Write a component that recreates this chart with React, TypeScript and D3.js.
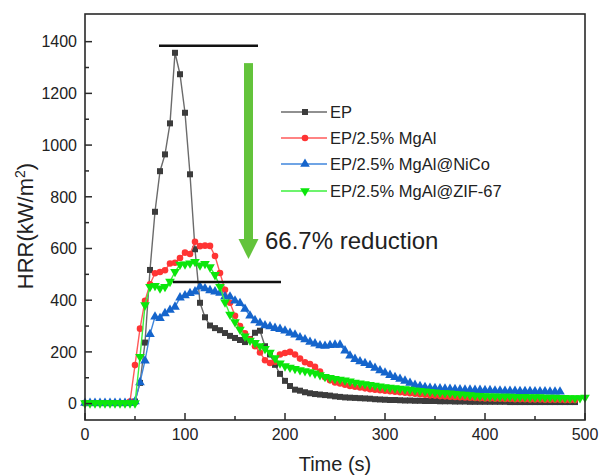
import React from "react";
import * as d3 from "d3";

// ---------- data ----------
const seriesNames = ["EP", "EP/2.5% MgAl", "EP/2.5% MgAl@NiCo", "EP/2.5% MgAl@ZIF-67"];

// HRR (kW/m2) sampled every 5 s starting at t = 0
const epHRR = [
  2, 2, 2, 2, 2, 2, 2, 2, 2, 3, 8, 80, 236, 517, 742, 899, 964, 1084, 1357, 1274,
  1125, 887, 597, 390, 334, 302, 292, 284, 273, 262, 254, 246, 238, 250, 274, 282, 222, 190, 150, 115,
  88, 68, 54, 50, 44, 40, 37, 35, 33, 31, 28, 26, 24, 23, 22, 21, 20, 19, 17, 16,
  15, 14, 14, 13, 12, 12, 11, 11, 10, 10, 10, 9, 9, 9, 8, 8, 8, 7, 7, 7,
  7, 7, 7, 7, 7, 6, 6, 6, 6, 6, 6, 6, 6, 6, 6, 6, 6, 6, 6,
];
const mgalHRR = [
  2, 2, 2, 2, 2, 2, 2, 2, 2, 8, 149, 290, 398, 462, 504, 509, 516, 542, 545, 563,
  584, 579, 626, 609, 611, 610, 571, 505, 440, 390, 340, 300, 272, 248, 222, 198, 168, 157, 162, 190,
  196, 200, 190, 174, 160, 153, 142, 124, 102, 90, 82, 78, 73, 68, 65, 62, 59, 56, 54, 52,
  50, 48, 46, 44, 42, 40, 38, 36, 34, 32, 31, 29, 28, 27, 26, 25, 24, 23, 22, 21,
  20, 20, 19, 19, 18, 18, 17, 17, 17, 16, 16, 16, 15, 15, 15, 15, 14, 14, 14,
];
const nicoHRR = [
  2, 2, 2, 2, 2, 2, 2, 2, 2, 2, 8, 82, 166, 268, 336, 330, 349, 362, 374, 410,
  418, 427, 433, 452, 445, 438, 433, 428, 414, 413, 398, 388, 366, 340, 322, 312, 302, 298, 292, 288,
  282, 273, 266, 256, 248, 238, 232, 225, 223, 226, 227, 227, 205, 185, 172, 163, 156, 148, 138, 128,
  119, 110, 102, 95, 88, 80, 72, 67, 63, 60, 59, 58, 57, 56, 55, 54, 53, 53, 52, 52,
  51, 51, 50, 50, 49, 49, 49, 48, 48, 48, 47, 47, 47, 46, 46, 46,
];
const zifHRR = [
  2, 2, 2, 2, 2, 2, 2, 2, 2, 2, 2, 181, 381, 452, 456, 446, 452, 472, 510, 538,
  539, 543, 549, 535, 541, 528, 498, 452, 392, 345, 316, 287, 260, 244, 235, 223, 212, 198, 176, 156,
  145, 140, 135, 130, 126, 122, 117, 111, 104, 100, 96, 93, 90, 86, 82, 79, 76, 73, 70, 67,
  64, 62, 60, 58, 56, 54, 52, 50, 48, 46, 44, 42, 41, 40, 38, 36, 35, 33, 31, 30,
  29, 28, 28, 27, 27, 27, 26, 26, 26, 25, 25, 25, 24, 24, 24, 23, 23, 22, 22, 22, 24,
];
const sampleInterval = 5;

const xTicks = [0, 100, 200, 300, 400, 500];
const xMinorTicks = [50, 150, 250, 350, 450];
const yTicks = [0, 200, 400, 600, 800, 1000, 1200, 1400];
const yMinorTicks = [100, 300, 500, 700, 900, 1100, 1300];

// annotation (data units)
const peakLineEP = { t0: 74, t1: 173, v: 1384 };
const peakLineZIF = { t0: 88, t1: 196, v: 470 };
const arrowSpec = { t: 163.5, vTop: 1317, vTip: 559 };
const reductionLabel = "66.7% reduction";

// ---------- layout / style ----------
const W = 599;
const H = 475;
const FONT = "'Liberation Sans', Arial, Helvetica, sans-serif";
const styles = [
  { line: "#6b6b6b", fill: "#3c3c3c", shape: "square" },
  { line: "#ff5a5a", fill: "#ff3434", shape: "circle" },
  { line: "#3f86dc", fill: "#1565cc", shape: "triangle" },
  { line: "#3cf03c", fill: "#0be60b", shape: "triangleDown" },
];

function markerPath(shape: string) {
  if (shape === "square") return d3.symbol().type(d3.symbolSquare).size(36)()!;
  if (shape === "circle") return d3.symbol().type(d3.symbolCircle).size(34)()!;
  return d3.symbol().type(d3.symbolTriangle).size(40)()!;
}

export default function App() {
  const x = d3.scaleLinear().domain([0, 500]).range([85, 585]);
  const y = d3.scaleLinear().domain([-63.4, 1507]).range([420, 14]);
  const [x0, x1] = x.range();
  const [yb, yt] = y.range();

  const allSeries = [epHRR, mgalHRR, nicoHRR, zifHRR].map((vals) =>
    vals.map((v, i) => [i * sampleInterval, v] as [number, number])
  );
  const line = d3
    .line<[number, number]>()
    .x((d) => x(d[0]))
    .y((d) => y(d[1]));

  const legendY = [112, 138, 164, 191];
  const ax = x(arrowSpec.t);
  const aTop = y(arrowSpec.vTop);
  const aTip = y(arrowSpec.vTip);

  return (
    <svg width={W} height={H} style={{ display: "block", position: "absolute", left: 0, top: 0, background: "#fff" }} fontFamily={FONT}>
      <rect x={0} y={0} width={W} height={H} fill="#fff" />
      {/* series */}
      {allSeries.map((pts, si) => {
        const st = styles[si];
        const p = markerPath(st.shape);
        return (
          <g key={si}>
            <path d={line(pts)!} fill="none" stroke={st.line} strokeWidth={1.4} />
            {pts.map((d, i) => (
              <path
                key={i}
                d={p}
                transform={`translate(${x(d[0])},${y(d[1])})${st.shape === "triangleDown" ? " rotate(180)" : ""}`}
                fill={st.fill}
              />
            ))}
          </g>
        );
      })}

      {/* frame */}
      <rect x={x0} y={yt} width={x1 - x0} height={yb - yt} fill="none" stroke="#2a2a2a" strokeWidth={1.6} />
      {/* x ticks */}
      {xTicks.map((t) => (
        <g key={"xt" + t}>
          <line x1={x(t)} x2={x(t)} y1={yb} y2={yb - 7} stroke="#2a2a2a" strokeWidth={1.5} />
          <text x={x(t)} y={440} textAnchor="middle" fontSize={16} fill="#222">
            {t}
          </text>
        </g>
      ))}
      {xMinorTicks.map((t) => (
        <line key={"xm" + t} x1={x(t)} x2={x(t)} y1={yb} y2={yb - 4} stroke="#2a2a2a" strokeWidth={1.5} />
      ))}
      {/* y ticks */}
      {yTicks.map((v) => (
        <g key={"yt" + v}>
          <line x1={x0} x2={x0 + 7} y1={y(v)} y2={y(v)} stroke="#2a2a2a" strokeWidth={1.5} />
          <text x={77} y={y(v)} dy="0.36em" textAnchor="end" fontSize={16} fill="#222">
            {v}
          </text>
        </g>
      ))}
      {yMinorTicks.map((v) => (
        <line key={"ym" + v} x1={x0} x2={x0 + 4} y1={y(v)} y2={y(v)} stroke="#2a2a2a" strokeWidth={1.5} />
      ))}

      {/* axis titles */}
      <text x={335} y={471} textAnchor="middle" fontSize={20} fill="#222">
        Time (s)
      </text>
      <text transform={`translate(33,226) rotate(-90)`} textAnchor="middle" fontSize={22} fill="#222">
        HRR(kW/m
        <tspan dy={-8} fontSize={14}>
          2
        </tspan>
        <tspan dy={8}>)</tspan>
      </text>

      {/* annotation lines */}
      <line x1={x(peakLineEP.t0)} x2={x(peakLineEP.t1)} y1={y(peakLineEP.v)} y2={y(peakLineEP.v)} stroke="#111" strokeWidth={2.5} />
      <line x1={x(peakLineZIF.t0)} x2={x(peakLineZIF.t1)} y1={y(peakLineZIF.v)} y2={y(peakLineZIF.v)} stroke="#111" strokeWidth={2.5} />
      {/* arrow */}
      <rect x={ax - 4.5} y={aTop} width={9} height={aTip - 20 - aTop} fill="#63c33b" />
      <path d={`M${ax - 10},${aTip - 20} L${ax + 10},${aTip - 20} L${ax},${aTip} Z`} fill="#63c33b" />
      <text x={265} y={249} fontSize={24} fill="#222">
        {reductionLabel}
      </text>

      {/* legend */}
      {seriesNames.map((name, i) => {
        const st = styles[i];
        const ly = legendY[i];
        return (
          <g key={name}>
            <line x1={281} x2={327} y1={ly} y2={ly} stroke={st.line} strokeWidth={1.5} />
            <path
              d={markerPath(st.shape)}
              transform={`translate(305,${ly})${st.shape === "triangleDown" ? " rotate(180)" : ""}`}
              fill={st.fill}
            />
            <text x={330} y={ly} dy="0.36em" fontSize={16.5} fill="#222">
              {name}
            </text>
          </g>
        );
      })}
    </svg>
  );
}
